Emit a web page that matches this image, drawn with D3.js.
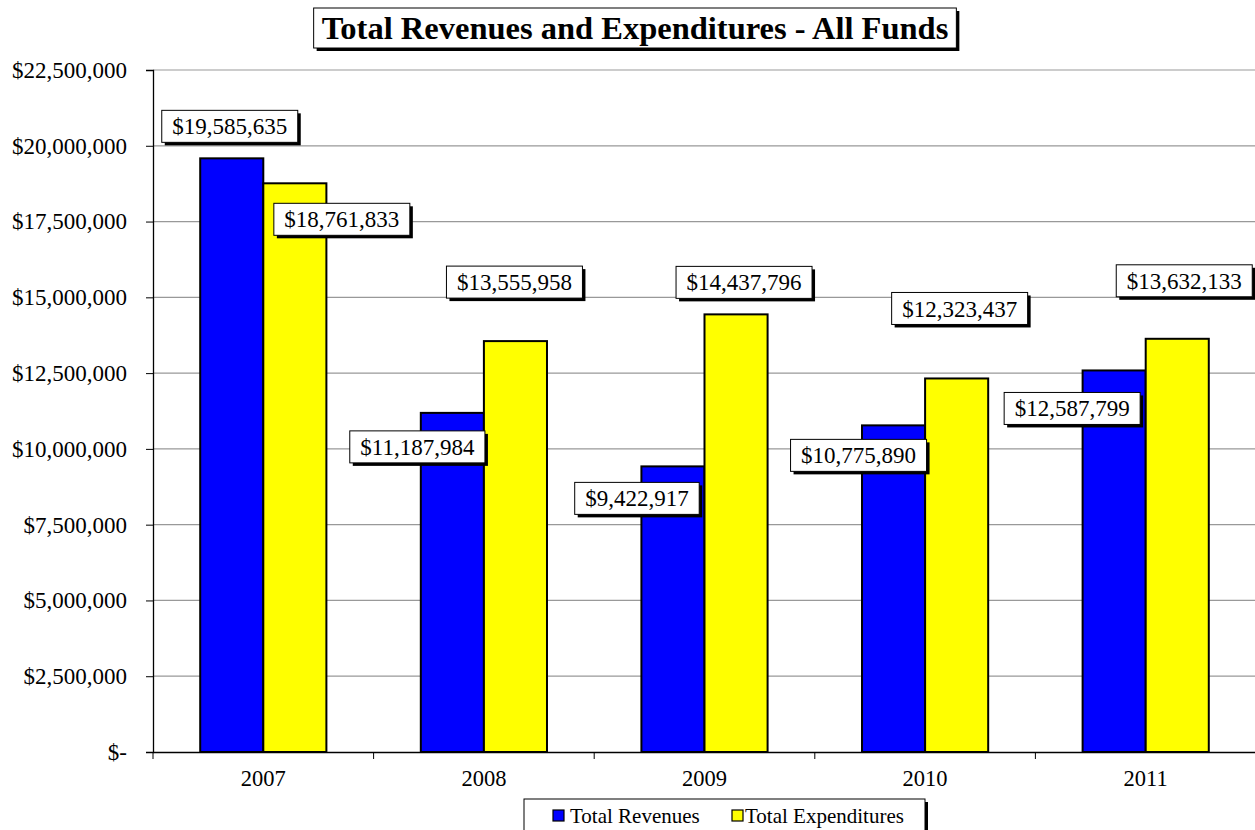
<!DOCTYPE html>
<html><head><meta charset="utf-8">
<script src="https://cdn.jsdelivr.net/npm/d3@7"></script>
<style>body{margin:0;background:#fff}svg{display:block}text{font-family:"Liberation Serif","Times New Roman",serif}</style>
</head><body><svg id="c" width="1255" height="830"></svg>
<script>
const categories = ["2007","2008","2009","2010","2011"];
const seriesNames = ["Total Revenues","Total Expenditures"];
const revenues = [19585635, 11187984, 9422917, 10775890, 12587799];
const expenditures = [18761833, 13555958, 14437796, 12323437, 13632133];
const yTicks = [0,2500000,5000000,7500000,10000000,12500000,15000000,17500000,20000000,22500000];
const title = "Total Revenues and Expenditures - All Funds";
// label placement offsets (layout): [dx from bar centre, dy of box centre from bar top]
const revLabelOffsets = [[-2,-32],[-35,34],[-36,32],[-35,30],[-42,38]];
const expLabelOffsets = [[47,36],[-1,-59],[8,-32],[3,-70],[7,-58]];

const colors = ["#0000FF","#FFFF00"];
const FONT = '"Liberation Serif","Times New Roman",serif';
const svg = d3.select("#c");
const L=153, R=1256, T=70, B=752;
const y = d3.scaleLinear().domain([0,22500000]).range([B,T]);
const x0 = d3.scaleBand().domain(categories).range([L,R]).padding(0);
const barW = x0.bandwidth()*0.286;
const x1 = d3.scaleBand().domain(seriesNames).range([0,barW*2]);
const fmt = v => v===0 ? "$-" : "$" + d3.format(",")(v);

// gridlines
svg.append("g").selectAll("line").data(yTicks.filter(d=>d>0)).join("line")
  .attr("x1",L).attr("x2",1255).attr("y1",d=>y(d)).attr("y2",d=>y(d))
  .attr("stroke","#999").attr("stroke-width",1.2);

// y axis
const yAxis = d3.axisLeft(y).tickValues(yTicks).tickFormat(fmt).tickSize(7).tickPadding(19);
const gy = svg.append("g").attr("transform",`translate(${L},0)`).call(yAxis);
gy.attr("font-size",null).attr("font-family",null);
gy.select(".domain").attr("stroke","#000").attr("stroke-width",1.3);
gy.selectAll(".tick line").attr("stroke","#000");
gy.selectAll("text").style("font-size","23px").style("font-family",FONT).attr("fill","#000");

// x axis
const gx = svg.append("g").attr("transform",`translate(0,${B})`).call(d3.axisBottom(x0).tickSize(0).tickPadding(18));
gx.attr("font-size",null).attr("font-family",null);
gx.select(".domain").attr("stroke","#000").attr("stroke-width",1.3);
gx.selectAll("text").style("font-size","22.5px").style("font-family",FONT).attr("fill","#000");
// category boundary ticks
svg.append("g").selectAll("line").data(d3.range(categories.length+1)).join("line")
  .attr("x1",i=>L+i*x0.step()).attr("x2",i=>L+i*x0.step())
  .attr("y1",B).attr("y2",B+7).attr("stroke","#000").attr("stroke-width",1);

// bars
const rows = categories.map((c,i)=>({c, vals:[revenues[i],expenditures[i]], i}));
const groups = svg.append("g").selectAll("g").data(rows).join("g")
  .attr("transform",d=>`translate(${x0(d.c)+x0.bandwidth()/2-barW},0)`);
groups.selectAll("rect").data(d=>d.vals.map((v,k)=>({v,k}))).join("rect")
  .attr("x",d=>x1(seriesNames[d.k])).attr("width",x1.bandwidth())
  .attr("y",d=>y(d.v)).attr("height",d=>B-y(d.v))
  .attr("fill",d=>colors[d.k]).attr("stroke","#000").attr("stroke-width",2);

// data labels
function label(cx, cy, txt){
  const g = svg.append("g");
  const t = g.append("text").style("font-size","23px").style("font-family",FONT).attr("text-anchor","middle")
    .attr("x",cx).attr("y",cy).attr("dy","0.35em").text(txt);
  const w = t.node().getComputedTextLength()+21, h=32;
  g.insert("rect","text").attr("x",cx-w/2+3).attr("y",cy-h/2+3).attr("width",w).attr("height",h).attr("fill","#000");
  g.insert("rect","text").attr("x",cx-w/2).attr("y",cy-h/2).attr("width",w).attr("height",h).attr("fill","#fff").attr("stroke","#000").attr("stroke-width",1);
}
rows.forEach((d,i)=>{
  const base = x0(d.c)+x0.bandwidth()/2-barW;
  const cR = base + x1(seriesNames[0]) + x1.bandwidth()/2;
  const cE = base + x1(seriesNames[1]) + x1.bandwidth()/2;
  label(cR+revLabelOffsets[i][0], y(revenues[i])+revLabelOffsets[i][1], fmt(revenues[i]));
  label(cE+expLabelOffsets[i][0], y(expenditures[i])+expLabelOffsets[i][1], fmt(expenditures[i]));
});

// title
(function(){
  const g = svg.append("g");
  const cx=635, cy=28;
  const t = g.append("text").style("font-size","32.5px").style("font-family",FONT).attr("font-weight","bold").attr("text-anchor","middle")
    .attr("x",cx).attr("y",cy).attr("dy","0.35em").text(title);
  const w = t.node().getComputedTextLength()+16, h=40;
  g.insert("rect","text").attr("x",cx-w/2+3).attr("y",cy-h/2+3).attr("width",w).attr("height",h).attr("fill","#000");
  g.insert("rect","text").attr("x",cx-w/2).attr("y",cy-h/2).attr("width",w).attr("height",h).attr("fill","#fff").attr("stroke","#000").attr("stroke-width",1);
})();

// legend
(function(){
  const g = svg.append("g");
  const lx=524, ly=799, lw=401, lh=40;
  g.append("rect").attr("x",lx+3).attr("y",ly+3).attr("width",lw).attr("height",lh).attr("fill","#000");
  g.append("rect").attr("x",lx).attr("y",ly).attr("width",lw).attr("height",lh).attr("fill","#fff").attr("stroke","#000").attr("stroke-width",1);
  const swatchX = [553, 732], textX = [570, 745];
  seriesNames.forEach((s,k)=>{
    g.append("rect").attr("x",swatchX[k]).attr("y",ly+11).attr("width",11).attr("height",11)
      .attr("fill",colors[k]).attr("stroke","#000").attr("stroke-width",1.2);
    g.append("text").attr("x",textX[k]).attr("y",ly+24).style("font-size","21px").style("font-family",FONT).text(s);
  });
})();
</script></body></html>
